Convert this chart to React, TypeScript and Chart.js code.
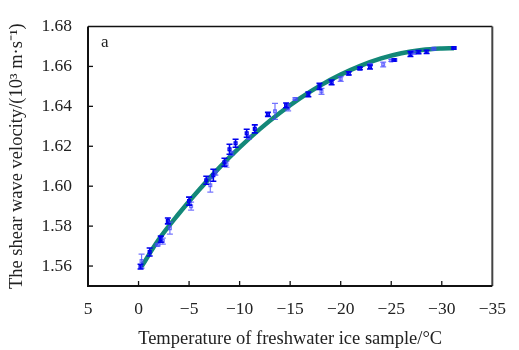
import React, { useEffect, useRef } from "react";
import { Chart, registerables } from "chart.js";

Chart.register(...registerables);

// Fitted curve
const curveT = [-0.3, -2, -4, -6, -8, -10, -12, -14, -16, -18, -20, -22, -24, -26, -28, -30, -31.2];
const curveV = [1.5597, 1.5733, 1.5863, 1.5982, 1.6093, 1.6194, 1.6286, 1.6368, 1.6441, 1.6505, 1.6559, 1.6604, 1.664, 1.6666, 1.6682, 1.669, 1.6691];

// Measurements, darker series
const darkT = [-0.2, -1.1, -2.2, -2.9, -5.0, -6.7, -7.4, -8.5, -9.0, -9.6, -10.7, -11.5, -12.8, -14.6, -16.8, -17.9, -19.1, -20.8, -21.9, -22.9, -25.3, -26.9, -27.7, -28.5, -31.2];
const darkV = [1.5597, 1.567, 1.5735, 1.5826, 1.5925, 1.603, 1.6055, 1.612, 1.6185, 1.6215, 1.6265, 1.6287, 1.636, 1.6405, 1.646, 1.65, 1.652, 1.6565, 1.659, 1.6597, 1.6632, 1.6662, 1.6672, 1.6673, 1.6692];
const darkErr = [0.0012, 0.002, 0.0015, 0.0015, 0.002, 0.002, 0.003, 0.002, 0.0025, 0.002, 0.002, 0.002, 0.001, 0.0012, 0.0012, 0.0015, 0.0012, 0.0008, 0.0006, 0.001, 0.0005, 0.0012, 0.0008, 0.0008, 0.0005];

// Measurements, lighter series
const lightT = [-0.3, -1.9, -2.4, -3.1, -5.2, -7.1, -7.6, -8.7, -9.2, -10.9, -13.5, -14.8, -15.5, -18.1, -20.0, -22.9, -24.2, -25.0, -27.2, -29.2];
const lightV = [1.5625, 1.5706, 1.5725, 1.579, 1.59, 1.6005, 1.6065, 1.611, 1.6165, 1.6245, 1.6375, 1.6392, 1.6437, 1.6475, 1.6537, 1.6608, 1.661, 1.663, 1.667, 1.6688];
const lightErr = [0.0035, 0.0005, 0.0015, 0.003, 0.002, 0.0035, 0.001, 0.0015, 0.001, 0.001, 0.004, 0.0015, 0.0005, 0.0015, 0.0012, 0.0005, 0.0012, 0.0005, 0.0008, 0.0005];

const xTicks = [5, 0, -5, -10, -15, -20, -25, -30, -35];
const yTicks = [1.56, 1.58, 1.6, 1.62, 1.64, 1.66, 1.68];

const FONT = "'Liberation Serif', 'Times New Roman', serif";

const errorBars = {
  id: "errorBars",
  afterDatasetsDraw(chart: any) {
    const { ctx } = chart;
    const x = chart.scales.x;
    const y = chart.scales.y;
    chart.data.datasets.forEach((ds: any) => {
      if (!ds.errors) return;
      ctx.save();
      ctx.strokeStyle = ds.errColor;
      ctx.lineWidth = ds.errWidth;
      ds.data.forEach((p: any, i: number) => {
        const e = ds.errors[i];
        const px = x.getPixelForValue(p.x);
        const y1 = y.getPixelForValue(p.y - e);
        const y2 = y.getPixelForValue(p.y + e);
        ctx.beginPath();
        ctx.moveTo(px, y1);
        ctx.lineTo(px, y2);
        ctx.moveTo(px - 3, y1);
        ctx.lineTo(px + 3, y1);
        ctx.moveTo(px - 3, y2);
        ctx.lineTo(px + 3, y2);
        ctx.stroke();
      });
      ctx.restore();
    });
  },
};

const frame = {
  id: "frame",
  afterDraw(chart: any) {
    const { ctx, chartArea: a } = chart;
    const x = chart.scales.x;
    const y = chart.scales.y;
    ctx.save();
    ctx.strokeStyle = "#111";
    ctx.lineWidth = 1.5;
    ctx.beginPath();
    ctx.moveTo(a.left, a.top);
    ctx.lineTo(a.right, a.top);
    ctx.stroke();
    ctx.strokeStyle = "#444";
    ctx.lineWidth = 2;
    ctx.beginPath();
    ctx.moveTo(a.right, a.top);
    ctx.lineTo(a.right, a.bottom);
    ctx.stroke();
    ctx.strokeStyle = "#111";
    ctx.lineWidth = 2;
    ctx.beginPath();
    ctx.moveTo(a.left, a.top);
    ctx.lineTo(a.left, a.bottom);
    ctx.lineTo(a.right, a.bottom);
    ctx.stroke();
    ctx.lineWidth = 1.3;
    x.ticks.forEach((t: any) => {
      const px = x.getPixelForValue(t.value);
      if (Math.abs(px - a.left) < 2 || Math.abs(px - a.right) < 2) return;
      ctx.beginPath();
      ctx.moveTo(px, a.bottom);
      ctx.lineTo(px, a.bottom - 5);
      ctx.stroke();
    });
    y.ticks.forEach((t: any) => {
      const py = y.getPixelForValue(t.value);
      if (Math.abs(py - a.top) < 2) return;
      ctx.beginPath();
      ctx.moveTo(a.left, py);
      ctx.lineTo(a.left + 5, py);
      ctx.stroke();
    });
    ctx.fillStyle = "#222";
    ctx.font = `17px ${FONT}`;
    ctx.textBaseline = "alphabetic";
    ctx.textAlign = "left";
    ctx.fillText("a", a.left + 13, a.top + 20);
    ctx.restore();
  },
};

export default function App() {
  const ref = useRef<HTMLCanvasElement>(null);
  useEffect(() => {
    if (!ref.current) return;
    const chart = new Chart(ref.current, {
      type: "scatter",
      data: {
        datasets: [
          {
            type: "line",
            label: "fit",
            data: curveT.map((t, i) => ({ x: t, y: curveV[i] })),
            borderColor: "#138878",
            borderWidth: 4.5,
            pointRadius: 0,
            tension: 0.4,
            order: 3,
          } as any,
          {
            label: "light",
            data: lightT.map((t, i) => ({ x: t, y: lightV[i] })),
            errors: lightErr,
            errColor: "rgba(70,70,255,0.75)",
            errWidth: 1.2,
            pointStyle: "rect",
            pointRadius: 2,
            backgroundColor: "rgba(255,255,255,0)",
            borderColor: "rgba(70,70,255,0.75)",
            borderWidth: 1.2,
            order: 2,
          } as any,
          {
            label: "dark",
            data: darkT.map((t, i) => ({ x: t, y: darkV[i] })),
            errors: darkErr,
            errColor: "#0000ee",
            errWidth: 1.6,
            pointStyle: "rect",
            pointRadius: 2,
            backgroundColor: "rgba(255,255,255,0)",
            borderColor: "#0000ee",
            borderWidth: 1.3,
            order: 1,
          } as any,
        ],
      },
      options: {
        animation: false,
        responsive: false,
        layout: { padding: { top: 16, right: 15, left: 0, bottom: 0 } },
        plugins: { legend: { display: false }, tooltip: { enabled: false } },
        scales: {
          x: {
            type: "linear",
            min: -35,
            max: 5,
            reverse: true,
            afterBuildTicks: (s: any) => {
              s.ticks = xTicks.map((v) => ({ value: v }));
            },
            afterFit: (s: any) => {
              s.height = 64;
            },
            grid: { display: false, drawTicks: false },
            border: { display: false },
            ticks: {
              padding: 13,
              color: "#222",
              font: { family: FONT, size: 17.5 },
              maxRotation: 0,
              callback: (v: any) => (v < 0 ? "\u2212" + Math.abs(v) : String(v)),
            },
            title: {
              display: true,
              text: "Temperature of freshwater ice sample/°C",
              color: "#222",
              font: { family: FONT, size: 18.5 },
              padding: { top: 0, bottom: 0 },
            },
          },
          y: {
            type: "linear",
            min: 1.55,
            max: 1.68,
            afterBuildTicks: (s: any) => {
              s.ticks = yTicks.map((v) => ({ value: v }));
            },
            afterFit: (s: any) => {
              s.width = 88;
            },
            grid: { display: false, drawTicks: false },
            border: { display: false },
            ticks: {
              padding: 16,
              color: "#222",
              font: { family: FONT, size: 17.5 },
              callback: (v: any) => Number(v).toFixed(2),
            },
            title: {
              display: true,
              text: "The shear wave velocity/(10³ m·s⁻¹)",
              color: "#222",
              font: { family: FONT, size: 18.5 },
              padding: { top: 6, bottom: 0 },
            },
          },
        },
      },
      plugins: [errorBars, frame],
    });
    return () => chart.destroy();
  }, []);
  return (
    <div style={{ position: "absolute", left: 0, top: 0, width: 519, height: 350, background: "#fff" }}>
      <canvas ref={ref} width={519} height={350} />
    </div>
  );
}
